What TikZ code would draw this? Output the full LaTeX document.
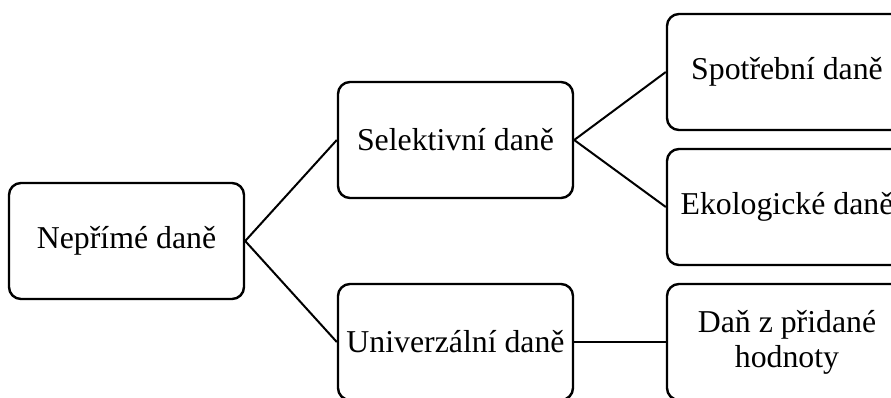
\documentclass[tikz,border=0pt]{standalone}
\usepackage{fontspec}
\setmainfont{Liberation Serif}
\begin{document}
\begin{tikzpicture}[x=1pt,y=-1pt,
  box/.style={draw=black, line width=2.4pt, rounded corners=12pt, fill=white,
    minimum width=235pt, minimum height=116pt, inner sep=0pt, align=center,
    font=\fontsize{31.8}{35}\selectfont},
  wbox/.style={box, minimum width=240pt},
  link/.style={draw=black, line width=2pt}]
\useasboundingbox (0,0) rectangle (891,397);
\clip (0,0) rectangle (891,397);
\node[box] (root) at (126.5,241) {Nepřímé daně};
\node[box] (sel) at (455.5,140) {Selektivní daně};
\node[box] (uni) at (455.5,342) {Univerzální daně};
\node[wbox] (spo) at (787,72) {Spotřební daně};
\node[wbox] (eko) at (787,207) {Ekologické daně};
\node[wbox] (dph) at (787,342) {Daň z přidané\\hodnoty};
\draw[link] (root.east) -- (sel.west);
\draw[link] (root.east) -- (uni.west);
\draw[link] (sel.east) -- (spo.west);
\draw[link] (sel.east) -- (eko.west);
\draw[link] (uni.east) -- (dph.west);
\end{tikzpicture}
\end{document}
